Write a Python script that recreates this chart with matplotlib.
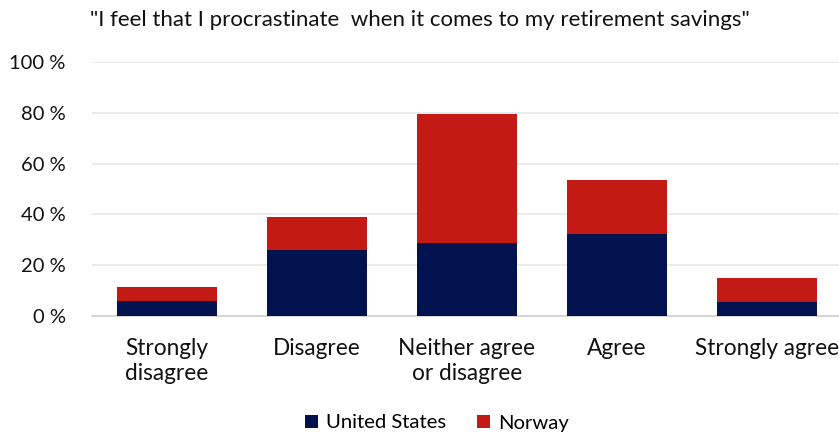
import numpy as np
import matplotlib.pyplot as plt

plt.rcParams["font.family"] = ["Lato", "DejaVu Sans"]

# ---- data
categories = ["Strongly\ndisagree", "Disagree", "Neither agree\nor disagree", "Agree", "Strongly agree"]
us_vals = [5.9, 25.9, 28.8, 32.4, 5.6]
norway_vals = [5.7, 13.1, 50.9, 21.3, 9.2]
yticks = [0, 20, 40, 60, 80, 100]
title = "\"I feel that I procrastinate  when it comes to my retirement savings\""

fig = plt.figure(figsize=(8.39, 4.34), dpi=100)
ax = fig.add_axes([92 / 839, (434 - 316) / 434, 1 - 92 / 839, (316 - 62) / 434])

x = np.arange(len(categories))
ax.bar(x, us_vals, width=0.667, color="#01124f", label="United States", zorder=3)
ax.bar(x, norway_vals, width=0.667, bottom=us_vals, color="#c41a16", label="Norway", zorder=3)

ax.set_xlim(-0.5, 4.48)
ax.set_ylim(0, 100)
ax.set_yticks(yticks)
ax.set_yticklabels([f"{t} %" for t in yticks], fontsize=14.5)
ax.set_xticks(x)
ax.set_xticklabels(categories, fontsize=16.3, linespacing=1.22, va="top")
ax.tick_params(axis="both", length=0, colors="#111111")
ax.tick_params(axis="y", pad=19)
ax.tick_params(axis="x", pad=16)

ax.grid(axis="y", color="#e8e8e8", linewidth=1.2, zorder=0)
for side in ["top", "right", "left"]:
    ax.spines[side].set_visible(False)
ax.spines["bottom"].set_color("#d0d0d0")
ax.spines["bottom"].set_linewidth(1.2)

fig.text(420 / 839, 1 - 20 / 434, title, ha="center", va="center", fontsize=16, color="#111111")

fig.legend(loc="center", bbox_to_anchor=(437 / 839, 1 - 423 / 434), ncol=2, frameon=False,
           fontsize=14.6, handlelength=0.65, handleheight=0.65, handletextpad=0.4, columnspacing=1.5)

fig.savefig("out.png", dpi=100)
